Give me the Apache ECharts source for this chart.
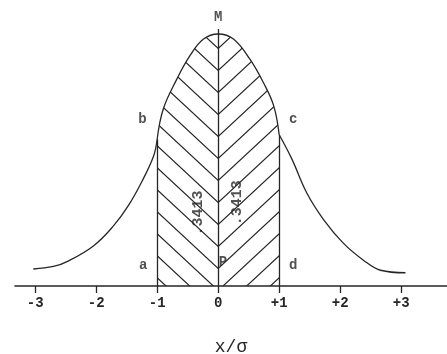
<!DOCTYPE html>
<html>
<head>
<meta charset="utf-8">
<script src="https://cdn.jsdelivr.net/npm/echarts@6/dist/echarts.min.js"></script>
<style>
  html, body { margin: 0; padding: 0; background: #ffffff; }
  #chart { width: 447px; height: 354px; }
</style>
</head>
<body>
<div id="chart"></div>
<script>
// Normal curve, abscissa in units of sigma, ordinate as density
const sigmaX = [-3.03, -2.70, -2.45, -2.04, -1.72, -1.47, -1.25, -1.06, -1.00,
                -0.90, -0.68, -0.46, -0.24, 0.00, 0.25, 0.52, 0.74, 0.91, 1.00,
                1.21, 1.45, 1.73, 2.05, 2.38, 2.66, 3.07];
const density = [0.027, 0.031, 0.040, 0.064, 0.095, 0.128, 0.166, 0.206, 0.233,
                 0.281, 0.328, 0.366, 0.392, 0.400, 0.392, 0.360, 0.323, 0.286, 0.240,
                 0.201, 0.148, 0.105, 0.068, 0.041, 0.025, 0.021];

// Axis ticks and their printed labels
const tickValues = [-3, -2, -1, 0, 1, 2, 3];
const tickLabels = ['-3', '-2', '-1', '0', '+1', '+2', '+3'];

// Shaded band (one sigma either side of the mean) and the area of each half
const bandEdges = [-1, 1];
const halfArea = '.3413';
const ordinateTop = 0.408;   // the mean line rises a little above the peak

const INK = '#262626';
const FONT = '"Liberation Mono", "Courier New", monospace';

const pairs = sigmaX.map((x, i) => [x, density[i]]);
const piece = (lo, hi) => pairs.filter(p => p[0] >= lo - 1e-9 && p[0] <= hi + 1e-9);
const valueAt = x => density[sigmaX.indexOf(x)];

const chart = echarts.init(document.getElementById('chart'), null, { renderer: 'canvas' });

// Chevron hatching tile: "\" left of the mean, "/" right of it, meeting on the mean line
function hatchTile(centerPx, baselinePx) {
  const W = 144, H = 22, slope = 0.93, half = 72;
  const c = document.createElement('canvas');
  c.width = W; c.height = H;
  const g = c.getContext('2d');
  g.strokeStyle = INK;
  g.lineWidth = 1.2;
  const uc = ((centerPx % W) + W) % W;
  const vy = (((baselinePx - 17.5) % H) + H) % H;
  for (let n = -1; n <= 1; n++) {
    for (let k = -6; k <= 8; k++) {
      const cx = uc + W * n, cy = vy + H * k;
      g.beginPath();
      g.moveTo(cx - half, cy - half * slope);
      g.lineTo(cx, cy);
      g.lineTo(cx + half, cy - half * slope);
      g.stroke();
    }
  }
  return c;
}

const curveLine = { color: INK, width: 1.3 };
const fmtTick = v => tickLabels[tickValues.indexOf(v)] ?? '';

const option = {
  animation: false,
  backgroundColor: '#ffffff',
  grid: { left: 15, right: 0, top: 2.5, bottom: 68, outerBoundsMode: 'none', containLabel: false },
  xAxis: {
    type: 'value',
    min: -3.33,
    max: 3.75,
    name: 'x/σ',
    nameLocation: 'middle',
    nameGap: 52,
    nameTextStyle: { color: INK, fontFamily: FONT, fontSize: 18 },
    axisLine: { show: true, lineStyle: { color: INK, width: 1.6 } },
    axisTick: { show: true, customValues: tickValues, length: 7, lineStyle: { color: INK, width: 1.3 } },
    axisLabel: {
      show: true, customValues: tickValues, formatter: fmtTick, margin: 10,
      color: INK, fontFamily: FONT, fontSize: 14, fontWeight: 'bold'
    },
    splitLine: { show: false }
  },
  yAxis: {
    type: 'value', min: 0, max: 0.45, show: false,
    splitLine: { show: false }
  },
  series: [
    {
      name: 'left tail', type: 'line', data: piece(-4, bandEdges[0]),
      smooth: 0.4, symbol: 'none', lineStyle: curveLine, silent: true
    },
    {
      name: 'band', type: 'line', data: piece(bandEdges[0], bandEdges[1]),
      smooth: 0.4, symbol: 'none', lineStyle: curveLine, silent: true,
      areaStyle: { color: 'transparent', opacity: 1 },
      markLine: {
        silent: true, symbol: 'none', label: { show: false },
        lineStyle: { color: INK, width: 1.3, type: 'solid' },
        data: [
          [{ coord: [bandEdges[0], 0] }, { coord: [bandEdges[0], valueAt(bandEdges[0])] }],
          [{ coord: [0, 0] }, { coord: [0, ordinateTop] }],
          [{ coord: [bandEdges[1], 0] }, { coord: [bandEdges[1], valueAt(bandEdges[1])] }]
        ]
      }
    },
    {
      name: 'right tail', type: 'line', data: piece(bandEdges[1], 4),
      smooth: 0.4, symbol: 'none', lineStyle: curveLine, silent: true
    },
    {
      name: 'letters', type: 'scatter', symbolSize: 1, silent: true, z: 10, clip: false,
      itemStyle: { color: 'transparent' },
      label: {
        show: true, position: 'inside', formatter: '{b}',
        color: INK, fontFamily: FONT, fontSize: 14, fontWeight: 'bold'
      },
      data: [
        { name: 'M', value: [0, 0.427] },
        { name: 'b', value: [-1.24, 0.265] },
        { name: 'c', value: [1.23, 0.265] },
        { name: 'a', value: [-1.23, 0.033] },
        { name: 'd', value: [1.23, 0.033] },
        { name: 'P', value: [0.08, 0.038] }
      ]
    },
    {
      name: 'areas', type: 'scatter', symbolSize: 1, silent: true, z: 10, clip: false,
      itemStyle: { color: 'transparent' },
      label: {
        show: true, position: 'inside', formatter: '{b}', rotate: 90,
        color: INK, fontFamily: FONT, fontSize: 15, fontWeight: 'bold'
      },
      data: [
        { name: halfArea, value: [-0.33, 0.116] },
        { name: halfArea, value: [0.31, 0.132] }
      ]
    }
  ]
};

chart.setOption(option);

// Place the hatching relative to the mean line and the baseline
const [cx, by] = chart.convertToPixel({ gridIndex: 0 }, [0, 0]);
chart.setOption({
  series: [{}, { areaStyle: { color: { image: hatchTile(cx, by), repeat: 'repeat' }, opacity: 1 } }]
});
</script>
</body>
</html>
